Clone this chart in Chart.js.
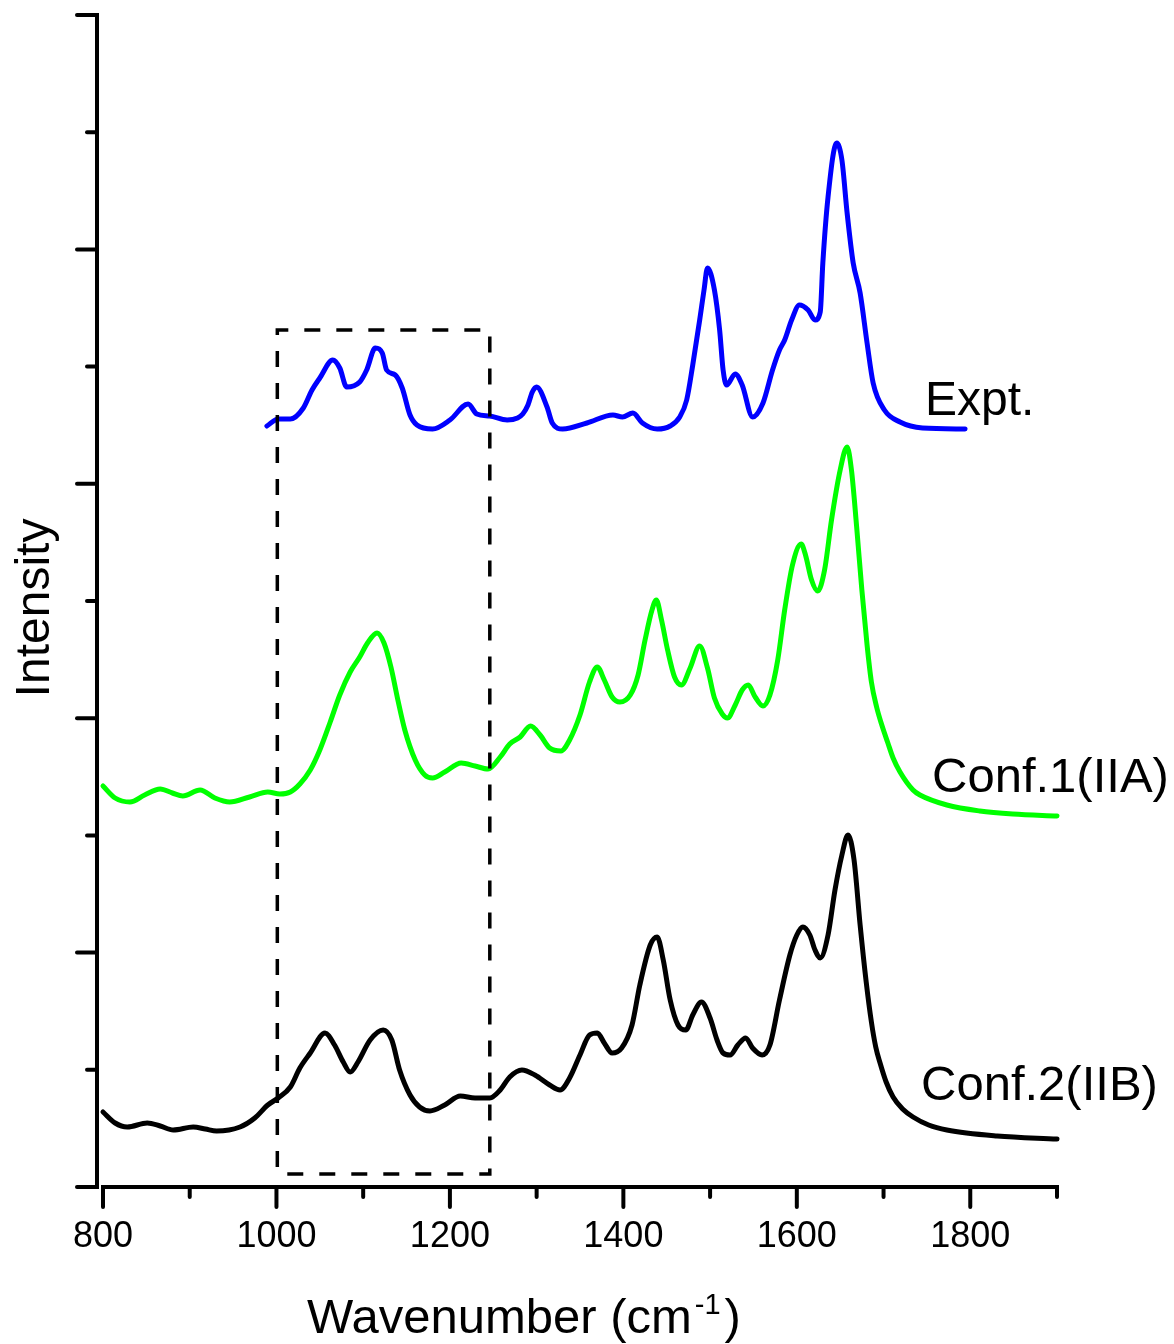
<!DOCTYPE html>
<html>
<head>
<meta charset="utf-8">
<title>Raman spectra</title>
<script src="https://cdn.jsdelivr.net/npm/chart.js@4.4.1/dist/chart.umd.min.js"></script>
<style>
  html, body { margin: 0; padding: 0; background: #fff; }
  #wrap { width: 1174px; height: 1344px; }
</style>
</head>
<body>
<div id="wrap"><canvas id="spectraChart" width="1174" height="1344"></canvas></div>
<script>
// --- Data: wavenumber (cm-1) and intensity (arb. units, curves stacked) ---

const exptX = [989, 1002, 1016, 1031, 1041, 1050, 1065, 1073, 1081, 1096, 1104, 1114, 1122, 1127, 1137, 1145, 1154, 1162, 1180, 1200,
    1221, 1231, 1246, 1266, 1278, 1284, 1290, 1295, 1300, 1312, 1318, 1330, 1358, 1388, 1399, 1411, 1422, 1439, 1454, 1465,
    1473, 1480, 1488, 1493, 1497, 1505, 1511, 1515, 1519, 1529, 1537, 1549, 1561, 1572, 1580, 1586, 1594, 1603, 1613, 1621,
    1627, 1630, 1636, 1646, 1652, 1658, 1665, 1673, 1681, 1688, 1701, 1719, 1745, 1794];
const exptY = [761, 768, 768, 779, 797, 809, 827, 819, 800, 805, 817, 839, 834, 817, 812, 799, 772, 762, 758, 767,
    783, 773, 771, 767, 769, 773, 782, 795, 800, 780, 764, 758, 764, 772, 770, 774, 764, 758, 761, 770,
    787, 822, 867, 897, 919, 897, 857, 817, 802, 813, 802, 770, 784, 817, 837, 847, 867, 882, 877, 867,
    875, 924, 990, 1044, 1027, 974, 924, 894, 844, 804, 777, 765, 759, 758];

const conf1X = [800, 814, 831, 848, 866, 880, 892, 912, 929, 946, 969, 990, 1004, 1016, 1027, 1039, 1050, 1062, 1073, 1085,
    1096, 1105, 1116, 1124, 1132, 1140, 1148, 1160, 1171, 1180, 1194, 1213, 1229, 1244, 1258, 1269, 1281, 1293, 1304, 1315,
    1328, 1338, 1350, 1361, 1370, 1378, 1387, 1396, 1408, 1417, 1425, 1433, 1438, 1444, 1451, 1459, 1467, 1477, 1488, 1497,
    1505, 1514, 1520, 1529, 1537, 1544, 1552, 1561, 1569, 1578, 1586, 1595, 1605, 1610, 1617, 1624, 1632, 1640, 1650, 1658,
    1663, 1669, 1675, 1681, 1686, 1692, 1698, 1705, 1711, 1719, 1734, 1742, 1773, 1811, 1849, 1900];
const conf1Y = [401, 389, 385, 392, 398, 394, 391, 397, 389, 385, 390, 395, 393, 395, 403, 417, 437, 465, 492, 515,
    530, 544, 554, 544, 520, 487, 457, 427, 412, 409, 415, 424, 421, 418, 430, 443, 450, 461, 452, 439,
    436, 447, 472, 505, 520, 507, 490, 485, 492, 512, 547, 577, 587, 567, 537, 510, 502, 519, 541, 519,
    489, 473, 469, 482, 497, 502, 490, 481, 492, 527, 577, 622, 643, 632, 607, 596, 617, 667, 717, 740,
    717, 660, 597, 542, 505, 480, 462, 444, 429, 415, 397, 392, 382, 376, 373, 371];

const conf2X = [800, 814, 828, 851, 866, 881, 904, 918, 931, 958, 975, 990, 1002, 1016, 1027, 1039, 1056, 1067, 1077, 1085,
    1094, 1108, 1123, 1133, 1142, 1154, 1165, 1177, 1194, 1212, 1229, 1246, 1258, 1269, 1283, 1298, 1315, 1327, 1338, 1350,
    1361, 1370, 1378, 1387, 1398, 1410, 1419, 1431, 1439, 1446, 1454, 1463, 1472, 1480, 1490, 1500, 1508, 1515, 1523, 1532,
    1541, 1549, 1560, 1569, 1580, 1592, 1600, 1607, 1615, 1621, 1627, 1636, 1644, 1652, 1659, 1666, 1673, 1680, 1686, 1691,
    1696, 1703, 1711, 1722, 1734, 1752, 1773, 1831, 1900];
const conf2Y = [75, 64, 60, 64, 61, 57, 60, 58, 56, 60, 69, 82, 89, 100, 119, 134, 154, 142, 125, 115,
    125, 147, 157, 147, 117, 92, 80, 76, 82, 91, 89, 89, 97, 110, 117, 112, 102, 97, 109, 132,
    152, 154, 144, 134, 139, 162, 202, 242, 250, 227, 187, 162, 157, 172, 185, 169, 147, 134, 132, 142,
    149, 139, 132, 142, 187, 232, 252, 260, 252, 237, 229, 252, 297, 332, 352, 327, 262, 205, 165, 140,
    124, 105, 90, 78, 70, 62, 57, 51, 48];

// dashed box marking the 1000-1250 region
const boxX = [1001, 1001, 1246, 1246, 1012, 1001];
const boxY = [20, 857, 857, 13, 13, 20];

const xMajorTicks = [800, 1000, 1200, 1400, 1600, 1800];
const xMinorTicks = [900, 1100, 1300, 1500, 1700, 1900];
const yMajorTicks = [0, 234.4, 468.8, 703.2, 937.6, 1172];
const yMinorTicks = [117.2, 351.6, 586, 820.4, 1054.8];
const seriesLabels = ['Expt.', 'Conf.1(IIA)', 'Conf.2(IIB)'];

const FONT = '"Liberation Sans", Arial, Helvetica, sans-serif';

const toPoints = (xs, ys) => xs.map((x, i) => ({ x: x, y: ys[i] }));

// --- Axes, ticks and text (Origin style, drawn against the chart scales) ---
const axesPlugin = {
    id: 'originAxes',
    afterDraw(chart) {
        const { ctx, chartArea, scales: { x, y } } = chart;
        const base = y.getPixelForValue(0);
        const yAxisX = chartArea.left - 6;

        ctx.save();
        ctx.strokeStyle = '#000';
        ctx.fillStyle = '#000';
        ctx.lineWidth = 4;
        ctx.lineCap = 'square';

        // y axis line
        ctx.beginPath();
        ctx.moveTo(yAxisX, y.getPixelForValue(yMajorTicks[yMajorTicks.length - 1]));
        ctx.lineTo(yAxisX, base);
        ctx.stroke();

        // x axis line
        ctx.beginPath();
        ctx.moveTo(chartArea.left, base);
        ctx.lineTo(chartArea.right, base);
        ctx.stroke();

        ctx.lineCap = 'round';
        yMajorTicks.forEach(v => {
            const py = y.getPixelForValue(v);
            ctx.beginPath(); ctx.moveTo(yAxisX, py); ctx.lineTo(yAxisX - 20, py); ctx.stroke();
        });
        yMinorTicks.forEach(v => {
            const py = y.getPixelForValue(v);
            ctx.beginPath(); ctx.moveTo(yAxisX, py); ctx.lineTo(yAxisX - 10, py); ctx.stroke();
        });
        xMajorTicks.forEach(v => {
            const px = x.getPixelForValue(v);
            ctx.beginPath(); ctx.moveTo(px, base); ctx.lineTo(px, base + 20); ctx.stroke();
        });
        xMinorTicks.forEach(v => {
            const px = x.getPixelForValue(v);
            ctx.beginPath(); ctx.moveTo(px, base); ctx.lineTo(px, base + 10); ctx.stroke();
        });

        // tick labels
        ctx.font = `36px ${FONT}`;
        ctx.textAlign = 'center';
        ctx.textBaseline = 'alphabetic';
        xMajorTicks.forEach(v => {
            ctx.fillText(String(v), x.getPixelForValue(v), base + 60);
        });

        // x title with superscript
        ctx.textAlign = 'left';
        ctx.font = `49px ${FONT}`;
        const t1 = 'Wavenumber (cm';
        let tx = 307;
        ctx.fillText(t1, tx, 1333);
        tx += ctx.measureText(t1).width + 3;
        ctx.font = `29px ${FONT}`;
        ctx.fillText('-1', tx, 1314);
        tx += ctx.measureText('-1').width + 4;
        ctx.font = `49px ${FONT}`;
        ctx.fillText(')', tx, 1333);

        // y title
        ctx.save();
        ctx.translate(49, 608);
        ctx.rotate(-Math.PI / 2);
        ctx.textAlign = 'center';
        ctx.font = `48px ${FONT}`;
        ctx.fillText('Intensity', 0, 0);
        ctx.restore();

        // series labels
        ctx.textAlign = 'left';
        ctx.font = `48px ${FONT}`;
        ctx.fillText(seriesLabels[0], 925, 415);
        ctx.font = `49px ${FONT}`;
        ctx.fillText(seriesLabels[1], 932, 792);
        ctx.fillText(seriesLabels[2], 921, 1100);

        ctx.restore();
    }
};

const lineStyle = {
    borderWidth: 5,
    pointRadius: 0,
    fill: false,
    cubicInterpolationMode: 'monotone',
    borderJoinStyle: 'round',
    borderCapStyle: 'round',
    clip: 10,
    order: 1
};

new Chart(document.getElementById('spectraChart').getContext('2d'), {
    type: 'line',
    data: {
        datasets: [
            Object.assign({ label: seriesLabels[0], data: toPoints(exptX, exptY), borderColor: '#0000ff' }, lineStyle),
            Object.assign({ label: seriesLabels[1], data: toPoints(conf1X, conf1Y), borderColor: '#00ff00' }, lineStyle),
            Object.assign({ label: seriesLabels[2], data: toPoints(conf2X, conf2Y), borderColor: '#000000' }, lineStyle),
            {
                label: 'region',
                data: toPoints(boxX, boxY),
                borderColor: '#000000',
                borderWidth: 3.5,
                borderDash: [16, 16],
                pointRadius: 0,
                tension: 0,
                fill: false,
                clip: 10,
                order: 0
            }
        ]
    },
    options: {
        responsive: false,
        animation: false,
        layout: { padding: { left: 103, right: 117, top: 15, bottom: 157 } },
        plugins: { legend: { display: false }, tooltip: { enabled: false } },
        scales: {
            x: { type: 'linear', min: 800, max: 1900, display: false },
            y: { type: 'linear', min: 0, max: 1172, display: false }
        }
    },
    plugins: [axesPlugin]
});
</script>
</body>
</html>
